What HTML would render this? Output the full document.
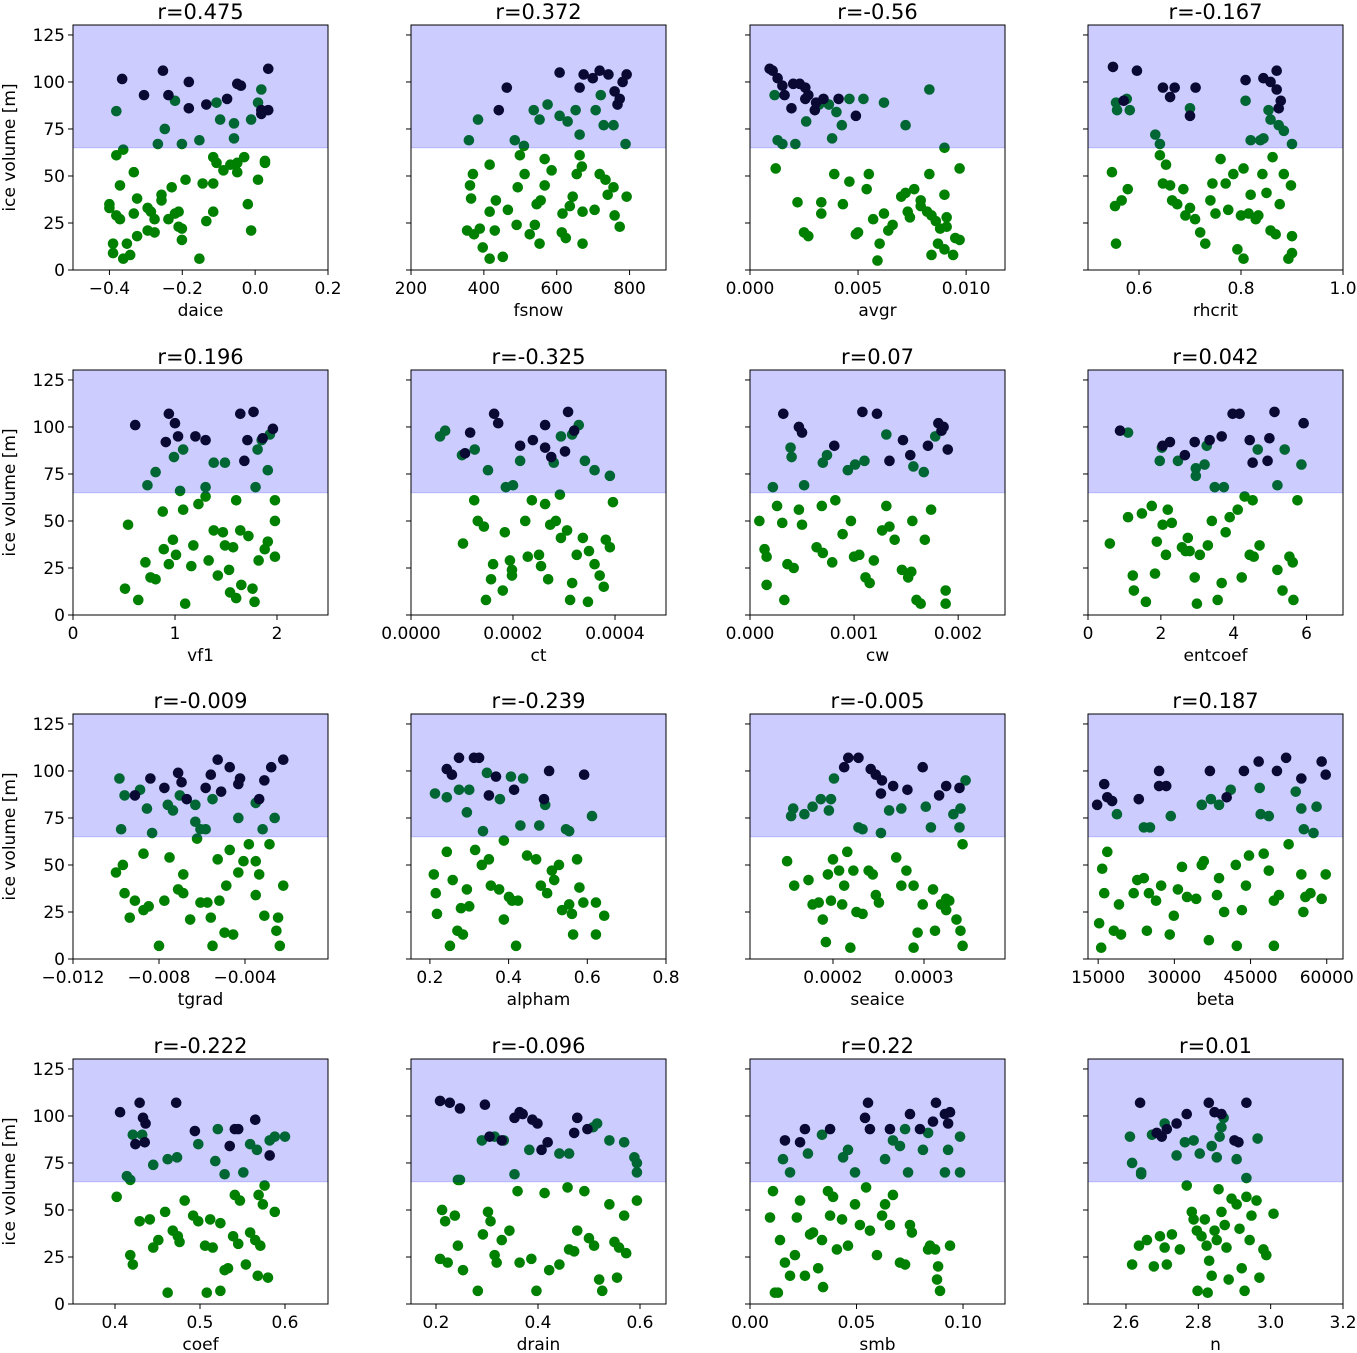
<!DOCTYPE html>
<html><head><meta charset="utf-8">
<style>
html,body{margin:0;padding:0;background:#fff;}
svg{display:block;font-family:"DejaVu Sans","Liberation Sans",sans-serif;}
</style></head>
<body>
<svg id="chart" width="1357" height="1353" viewBox="0 0 1357 1353"></svg>
<script>
// ---- data (x in axis units; tgrad in 1e-3, avgr 1e-3, cw 1e-3, ct 1e-4, seaice 1e-4) ----
const daiceDarkX=[-0.365,-0.305,-0.253,-0.238,-0.182,-0.182,-0.134,-0.077,-0.049,-0.039,0.017,0.036,0.036,0.017];
const daiceDarkY=[101.6,93,106,93,100,86,88,91,99,98,85,107,85,83];
const daiceGreenX=[-0.381,-0.220,-0.248,-0.267,-0.201,-0.153,-0.106,-0.096,-0.058,-0.058,0.008,0.017,-0.011,
-0.381,-0.362,-0.371,-0.400,-0.400,-0.381,-0.371,-0.352,-0.390,-0.390,-0.362,-0.343,-0.333,-0.324,-0.333,-0.324,-0.295,-0.295,-0.286,-0.276,-0.276,-0.257,-0.257,-0.238,-0.229,-0.220,-0.210,-0.210,-0.191,-0.201,-0.201,-0.153,-0.144,-0.115,-0.115,-0.134,-0.115,-0.106,-0.087,-0.068,-0.049,-0.049,-0.030,-0.020,-0.011,0.008,0.027,0.027];
const daiceGreenY=[84.5,90,75,67,67,69,89,80,78,70,89,96,80,
61,64,45,35,33,29,27,14,14,9,6,8,52,38,30,18,33,21,31,27,20,40,37,27,44,30,31,23,48,22,16,6,46,46,31,26,60,57,53,56,57,52,60,35,21,48,57,58];

const fsnowDarkX=[463,441,608,663,699,759,781,742,792,718,773,674,767];
const fsnowDarkY=[97,85,105,97,102,95,100,104,104,106,91,104,88];
const fsnowGreenX=[359,384,537,553,575,608,630,652,663,707,721,729,756,789,485,510,
362,370,365,354,373,397,389,416,416,433,430,416,452,466,490,493,499,512,526,540,545,556,553,567,567,586,614,616,636,625,644,655,663,669,671,704,718,734,740,756,759,773,792,671];
const fsnowGreenY=[69,80,85,80,88,82,79,85,72,85,93,77,77,67,69,66,
45,51,38,21,19,12,22,56,31,37,21,6,7,32,24,44,61,51,19,24,35,37,14,45,59,53,20,30,34,17,39,51,61,55,14,32,51,48,40,44,29,23,39,31];

const avgrDarkX=[0.91,1.05,1.28,1.5,2.0,2.3,2.56,2.56,1.92,3.0,3.4,3.06,4.1,4.9,1.6,2.7];
const avgrDarkY=[107,106,102,98,99,99,97,91,86,85,91,89,91,82,93,93];
const avgrGreenX=[1.14,1.28,1.5,2.1,2.6,3.2,3.65,3.8,4.25,4.6,5.25,6.2,7.2,8.3,9.0,4.0,
1.19,2.2,2.5,2.7,3.3,3.3,3.9,4.3,4.6,4.9,5.0,5.5,5.4,5.7,6.0,5.9,6.2,6.4,6.6,7.0,7.2,7.3,7.4,7.6,7.9,7.9,8.2,8.3,8.4,8.6,8.8,9.0,9.0,9.1,9.4,9.7,9.5,9.7,8.7,9.1,8.4];
const avgrGreenY=[93,69,67,67,79,88,88,70,77,91,91,89,77,96,65,84,
54,36,20,18,36,30,51,35,47,19,20,51,43,27,14,5,30,21,24,39,41,31,28,43,34,37,31,51,29,26,22,40,11,23,8,54,17,16,14,28,8];

const rhcritDarkX=[0.549,0.57,0.596,0.647,0.661,0.67,0.70,0.711,0.809,0.844,0.858,0.87,0.874,0.878,0.87];
const rhcritDarkY=[108,90,106,97,92,97,82,97,101,102,100,96,86,90,106];
const rhcritGreenX=[0.555,0.557,0.576,0.582,0.632,0.641,0.70,0.809,0.819,0.854,0.858,0.874,0.884,0.90,0.844,0.838,
0.547,0.553,0.555,0.566,0.578,0.641,0.647,0.653,0.661,0.665,0.675,0.687,0.691,0.70,0.71,0.72,0.73,0.74,0.744,0.75,0.76,0.77,0.775,0.785,0.793,0.80,0.805,0.815,0.819,0.829,0.834,0.842,0.85,0.858,0.862,0.868,0.876,0.884,0.898,0.90,0.90,0.893,0.805];
const rhcritGreenY=[89,85,91,85,72,67,86,90,69,85,80,77,74,67,70,69,
52,34,14,37,43,61,46,56,45,37,35,43,29,33,27,20,14,37,46,30,59,46,32,51,11,29,54,30,40,27,29,51,41,21,60,19,35,51,45,18,9,6,6];

const vf1DarkX=[0.61,0.94,1.0,0.91,1.03,1.2,1.3,1.64,1.77,1.71,1.96,1.68,1.86];
const vf1DarkY=[101,107,102,92,95,95,93,107,108,93,99,82,94];
const vf1GreenX=[0.81,0.73,0.99,1.08,1.38,1.49,1.81,1.85,1.91,1.93,1.79,1.3,1.05,
0.54,0.51,0.64,0.71,0.76,0.81,0.88,0.89,0.94,0.98,1.01,1.08,1.1,1.16,1.18,1.23,1.3,1.33,1.38,1.42,1.47,1.49,1.53,1.57,1.6,1.64,1.65,1.6,1.72,1.76,1.78,1.82,1.88,1.91,1.98,1.98,1.98,1.54];
const vf1GreenY=[76,69,84,88,81,81,88,93,77,96,68,68,66,
48,14,8,28,20,19,55,35,27,40,32,56,6,26,37,59,63,29,45,21,44,37,24,36,61,45,16,9,42,14,7,29,35,39,61,50,31,12];

const ctDarkX=[1.63,1.71,2.39,2.63,3.02,3.08,2.75,3.2,2.14,2.63,1.16,1.06];
const ctDarkY=[107,102,93,89,87,108,84,98,90,101,97,86];
const ctGreenX=[0.57,0.67,1.0,1.25,1.51,1.86,2.0,2.14,2.8,2.94,3.16,3.29,3.41,3.6,3.9,
1.02,1.24,1.31,1.43,1.47,1.57,1.61,1.8,1.84,1.94,1.98,1.98,2.24,2.29,2.37,2.51,2.55,2.63,2.69,2.73,2.84,2.92,2.94,3.06,3.12,3.16,3.25,3.37,3.47,3.49,3.6,3.7,3.78,3.82,3.9,3.96];
const ctGreenY=[95,98,85,88,77,68,69,82,81,95,96,101,82,77,74,
38,61,50,47,8,19,27,13,44,29,24,21,50,31,61,32,26,59,19,48,50,64,41,45,8,17,32,41,7,34,27,21,15,40,36,60];

const cwDarkX=[0.32,0.47,0.5,0.81,1.08,1.22,1.34,1.47,1.54,1.71,1.81,1.84,1.9,1.86];
const cwDarkY=[107,100,97,90,108,107,82,93,85,90,102,98,88,100];
const cwGreenX=[0.22,0.39,0.4,0.7,0.74,0.94,1.01,1.1,1.31,1.57,1.67,1.78,0.52,
0.09,0.14,0.16,0.16,0.26,0.31,0.33,0.36,0.42,0.47,0.5,0.64,0.69,0.7,0.79,0.82,0.89,0.97,1.0,1.05,1.11,1.15,1.19,1.27,1.31,1.34,1.39,1.46,1.52,1.56,1.6,1.64,1.68,1.74,1.88,1.88,1.55];
const cwGreenY=[68,89,84,81,85,77,80,82,96,79,76,95,69,
50,35,31,16,58,49,8,27,25,56,48,36,58,33,28,61,43,50,31,32,20,17,29,45,58,47,40,24,20,50,8,6,40,56,13,6,23];

const entcoefDarkX=[0.88,2.05,2.25,2.66,2.93,3.34,3.67,3.97,4.16,4.44,5.12,4.93,4.98,5.92,4.52];
const entcoefDarkY=[98,90,92,85,92,93,95,107,107,93,108,82,94,102,81];
const entcoefGreenX=[1.1,1.97,2.03,2.47,2.96,3.2,3.48,3.73,4.66,5.2,5.4,5.86,3.26,2.96,
0.6,1.1,1.23,1.26,1.48,1.59,1.75,1.84,1.89,2.05,2.14,2.19,2.3,2.58,2.68,2.74,2.79,2.93,2.99,3.07,3.29,3.4,3.56,3.67,3.78,3.89,4.11,4.22,4.44,4.55,4.71,5.2,5.34,5.53,5.62,5.64,5.75,4.3,4.52];
const entcoefGreenY=[97,82,89,82,74,80,68,68,88,69,88,80,90,78,
38,52,21,13,54,7,58,22,39,48,32,56,49,36,34,41,34,20,6,32,37,50,8,17,44,52,56,20,32,31,37,24,13,31,28,8,61,63,61];

const tgradDarkX=[-9.12,-8.40,-7.75,-7.11,-6.95,-6.71,-5.83,-5.59,-5.11,-4.71,-4.31,-4.23,-3.34,-3.10,-2.78,-2.22,-5.27];
const tgradDarkY=[87,96,91,99,94,85,91,98,89,102,93,96,85,95,102,106,106];
const tgradGreenX=[-9.84,-9.60,-9.76,-8.88,-8.56,-8.32,-7.59,-7.35,-7.03,-6.31,-6.07,-5.83,-5.51,-4.31,-3.50,-3.18,-2.62,-6.31,
-10.0,-9.68,-9.60,-9.36,-9.12,-8.72,-8.72,-8.48,-8.00,-7.75,-7.51,-7.11,-6.87,-6.87,-6.55,-6.23,-6.07,-5.75,-5.59,-5.51,-5.27,-5.19,-4.95,-4.87,-4.71,-4.55,-4.31,-4.07,-3.82,-3.50,-3.50,-3.34,-3.10,-2.86,-2.46,-2.38,-2.22,-2.54];
const tgradGreenY=[96,87,69,90,80,67,82,79,87,73,69,69,85,75,83,69,75,82,
46,50,35,22,31,26,56,28,7,31,54,37,45,35,21,64,30,30,22,7,53,31,14,39,58,13,46,52,61,52,34,45,23,61,22,7,39,15];

const alphamDarkX=[0.243,0.274,0.312,0.325,0.256,0.368,0.35,0.414,0.503,0.592,0.49];
const alphamDarkY=[101,107,107,107,98,97,87,90,100,98,85];
const alphamGreenX=[0.213,0.243,0.274,0.3,0.294,0.335,0.345,0.378,0.388,0.406,0.43,0.437,0.478,0.493,0.546,0.612,0.554,
0.21,0.215,0.218,0.243,0.251,0.258,0.27,0.279,0.284,0.294,0.3,0.315,0.332,0.35,0.355,0.376,0.388,0.401,0.409,0.419,0.424,0.447,0.47,0.482,0.498,0.51,0.516,0.528,0.536,0.554,0.561,0.564,0.574,0.58,0.622,0.622,0.643,0.59];
const alphamGreenY=[88,86,90,90,78,68,99,85,63,97,71,96,71,82,69,76,68,
45,35,24,57,7,42,15,27,13,37,28,58,50,53,39,37,21,33,31,7,31,55,53,39,35,47,42,50,26,29,24,13,53,38,30,13,23,30];

const seaiceDarkX=[2.123,2.168,2.280,2.415,2.471,2.538,2.527,2.661,2.986,2.818,3.166,3.244,3.390];
const seaiceDarkY=[102,107,107,101,98,95,88,92,102,90,87,92,91];
const seaiceGreenX=[1.563,1.540,1.686,1.776,1.866,1.978,2.011,1.955,2.280,2.325,2.527,2.617,2.751,3.020,3.076,3.401,3.457,3.323,3.390,
1.496,1.574,1.731,1.776,1.843,1.888,1.922,1.944,1.978,2.000,2.067,2.101,2.123,2.157,2.191,2.224,2.258,2.325,2.392,2.437,2.471,2.505,2.695,2.751,2.807,2.886,2.886,2.930,2.986,3.099,3.188,3.244,3.244,3.278,3.357,3.401,3.424,3.424,3.121];
const seaiceGreenY=[80,76,77,81,85,85,96,79,70,69,67,79,80,81,70,80,95,77,70,
52,39,42,29,30,21,9,45,31,53,47,29,39,57,6,47,25,24,47,45,34,30,54,39,47,39,6,14,29,37,29,26,32,31,21,15,7,61,15];

const betaDarkX=[14800,16200,16800,17750,23000,27000,27000,28400,37000,40300,43700,46600,50200,52000,55000,59000,59800];
const betaDarkY=[82,93,86,84,85,100,92,92,100,86,100,105,100,107,96,105,98];
const betaGreenX=[18700,24000,25200,29300,35400,37200,38800,41100,46800,47000,48600,53900,55500,57400,55000,58000,
15800,16200,15200,15600,16800,18100,19100,19500,22000,22700,24000,24600,25000,26400,27400,29100,29900,30700,31500,32500,34300,35400,35800,36800,38400,38800,39800,42100,42300,43300,44100,44700,47600,48600,49600,50600,49600,52500,55000,55800,55400,56800,59000,59800];
const betaGreenY=[77,70,70,76,82,85,82,90,91,77,76,89,69,67,80,81,
48,35,19,6,57,15,29,13,35,42,43,15,35,31,39,13,23,37,49,33,32,50,52,10,34,43,25,50,7,26,39,55,56,47,31,34,7,61,45,33,25,35,32,45];

const coefDarkX=[0.406,0.429,0.433,0.436,0.435,0.472,0.494,0.541,0.545,0.565,0.535,0.582,0.424];
const coefDarkY=[102,107,99,96,86,107,92,93,93,98,84,79,85];
const coefGreenX=[0.421,0.414,0.418,0.432,0.445,0.462,0.473,0.498,0.521,0.529,0.559,0.567,0.582,0.588,0.6,0.551,0.518,
0.402,0.418,0.421,0.429,0.441,0.445,0.451,0.459,0.462,0.468,0.474,0.476,0.482,0.492,0.498,0.506,0.508,0.512,0.515,0.524,0.529,0.533,0.539,0.541,0.545,0.547,0.554,0.559,0.565,0.568,0.571,0.574,0.576,0.58,0.588,0.569,0.524];
const coefGreenY=[90,68,66,90,74,77,78,85,93,69,85,82,87,89,89,70,76,
57,26,21,44,45,30,34,49,6,39,36,33,55,47,44,31,6,45,30,7,18,19,36,58,32,55,21,38,34,15,31,53,63,14,49,58,43];

const drainDarkX=[0.208,0.227,0.247,0.296,0.305,0.329,0.354,0.364,0.37,0.389,0.399,0.407,0.419,0.471,0.477,0.497];
const drainDarkY=[108,107,104,106,89,87,99,102,101,98,96,82,86,91,99,93];
const drainGreenX=[0.247,0.243,0.29,0.315,0.333,0.354,0.383,0.442,0.461,0.508,0.516,0.54,0.569,0.589,0.594,0.594,
0.212,0.208,0.218,0.223,0.237,0.243,0.253,0.282,0.292,0.302,0.307,0.315,0.319,0.329,0.344,0.36,0.364,0.387,0.397,0.413,0.422,0.442,0.458,0.461,0.471,0.477,0.491,0.5,0.51,0.52,0.526,0.54,0.55,0.555,0.559,0.569,0.573,0.594];
const drainGreenY=[66,66,87,89,87,69,82,80,80,94,96,87,86,78,75,70,
50,24,44,22,47,31,18,7,37,49,44,26,22,34,39,60,22,24,7,59,18,21,62,29,28,39,60,35,31,13,7,53,33,14,30,47,27,55];

const smbDarkX=[0.0164,0.0235,0.0258,0.0376,0.054,0.0554,0.0563,0.0657,0.0751,0.0798,0.0859,0.0873,0.0915,0.0939,0.093];
const smbDarkY=[87,86,93,93,99,107,93,93,101,93,97,107,101,102,96];
const smbGreenX=[0.0155,0.0188,0.0272,0.0338,0.0437,0.046,0.0493,0.0634,0.0671,0.0704,0.0728,0.0742,0.0812,0.0836,0.0915,0.093,0.0986,0.0986,
0.0094,0.0108,0.0117,0.0131,0.0141,0.0164,0.0188,0.0211,0.022,0.0235,0.0258,0.0282,0.0296,0.032,0.0338,0.0343,0.0366,0.0376,0.039,0.0408,0.0432,0.046,0.0493,0.0516,0.0545,0.0563,0.0596,0.062,0.0634,0.0657,0.0671,0.0704,0.0728,0.0751,0.076,0.0836,0.0845,0.0869,0.0878,0.0892,0.0939,0.0883];
const smbGreenY=[77,70,80,90,78,82,70,77,87,84,93,70,82,91,70,82,89,70,
46,60,6,6,34,22,15,26,46,55,15,37,38,19,34,9,60,47,57,29,45,31,53,42,62,39,26,47,53,42,58,22,21,42,38,29,31,29,13,7,31,20];

const nDarkX=[2.639,2.685,2.699,2.713,2.74,2.768,2.829,2.845,2.864,2.9,2.911,2.933];
const nDarkY=[107,91,89,93,96,101,107,102,101,87,86,107];
const nGreenX=[2.611,2.617,2.642,2.642,2.672,2.707,2.74,2.763,2.787,2.804,2.837,2.851,2.864,2.87,2.906,2.933,2.964,2.859,
2.617,2.636,2.658,2.677,2.694,2.707,2.713,2.727,2.749,2.768,2.782,2.787,2.796,2.809,2.818,2.823,2.83,2.837,2.845,2.851,2.856,2.864,2.873,2.878,2.884,2.892,2.906,2.914,2.92,2.928,2.933,2.942,2.947,2.961,2.969,2.98,2.988,3.008,2.826,2.798];
const nGreenY=[89,75,70,69,90,96,79,86,87,80,84,78,94,99,77,67,88,89,
21,31,34,20,36,30,21,37,29,63,49,45,39,36,45,31,23,15,39,34,61,49,42,30,13,56,53,40,19,7,57,34,47,55,14,29,26,48,6,7];

const titles=["r=0.475","r=0.372","r=-0.56","r=-0.167","r=0.196","r=-0.325","r=0.07","r=0.042","r=-0.009","r=-0.239","r=-0.005","r=0.187","r=-0.222","r=-0.096","r=0.22","r=0.01"];
const xLabels=["daice","fsnow","avgr","rhcrit","vf1","ct","cw","entcoef","tgrad","alpham","seaice","beta","coef","drain","smb","n"];
const yTicks=[0,25,50,75,100,125];
const threshold=65;

const panels=[
 {xmin:-0.5,xmax:0.2,ticks:[-0.4,-0.2,0.0,0.2],tl:["\u22120.4","\u22120.2","0.0","0.2"],dx:daiceDarkX,dy:daiceDarkY,gx:daiceGreenX,gy:daiceGreenY},
 {xmin:200,xmax:900,ticks:[200,400,600,800],tl:["200","400","600","800"],dx:fsnowDarkX,dy:fsnowDarkY,gx:fsnowGreenX,gy:fsnowGreenY},
 {xmin:0,xmax:11.8,ticks:[0,5,10],tl:["0.000","0.005","0.010"],dx:avgrDarkX,dy:avgrDarkY,gx:avgrGreenX,gy:avgrGreenY},
 {xmin:0.5,xmax:1.0,ticks:[0.6,0.8,1.0],tl:["0.6","0.8","1.0"],dx:rhcritDarkX,dy:rhcritDarkY,gx:rhcritGreenX,gy:rhcritGreenY},
 {xmin:0,xmax:2.5,ticks:[0,1,2],tl:["0","1","2"],dx:vf1DarkX,dy:vf1DarkY,gx:vf1GreenX,gy:vf1GreenY},
 {xmin:0,xmax:5.0,ticks:[0,2,4],tl:["0.0000","0.0002","0.0004"],dx:ctDarkX,dy:ctDarkY,gx:ctGreenX,gy:ctGreenY},
 {xmin:0,xmax:2.45,ticks:[0,1,2],tl:["0.000","0.001","0.002"],dx:cwDarkX,dy:cwDarkY,gx:cwGreenX,gy:cwGreenY},
 {xmin:0,xmax:7,ticks:[0,2,4,6],tl:["0","2","4","6"],dx:entcoefDarkX,dy:entcoefDarkY,gx:entcoefGreenX,gy:entcoefGreenY},
 {xmin:-12,xmax:-0.14,ticks:[-12,-8,-4],tl:["\u22120.012","\u22120.008","\u22120.004"],dx:tgradDarkX,dy:tgradDarkY,gx:tgradGreenX,gy:tgradGreenY},
 {xmin:0.152,xmax:0.8,ticks:[0.2,0.4,0.6,0.8],tl:["0.2","0.4","0.6","0.8"],dx:alphamDarkX,dy:alphamDarkY,gx:alphamGreenX,gy:alphamGreenY},
 {xmin:1.088,xmax:3.89,ticks:[2,3],tl:["0.0002","0.0003"],dx:seaiceDarkX,dy:seaiceDarkY,gx:seaiceGreenX,gy:seaiceGreenY},
 {xmin:13000,xmax:63200,ticks:[15000,30000,45000,60000],tl:["15000","30000","45000","60000"],dx:betaDarkX,dy:betaDarkY,gx:betaGreenX,gy:betaGreenY},
 {xmin:0.3506,xmax:0.6506,ticks:[0.4,0.5,0.6],tl:["0.4","0.5","0.6"],dx:coefDarkX,dy:coefDarkY,gx:coefGreenX,gy:coefGreenY},
 {xmin:0.1510,xmax:0.6510,ticks:[0.2,0.4,0.6],tl:["0.2","0.4","0.6"],dx:drainDarkX,dy:drainDarkY,gx:drainGreenX,gy:drainGreenY},
 {xmin:0,xmax:0.1197,ticks:[0,0.05,0.10],tl:["0.00","0.05","0.10"],dx:smbDarkX,dy:smbDarkY,gx:smbGreenX,gy:smbGreenY},
 {xmin:2.495,xmax:3.2,ticks:[2.6,2.8,3.0,3.2],tl:["2.6","2.8","3.0","3.2"],dx:nDarkX,dy:nDarkY,gx:nGreenX,gy:nGreenY}
];

const NS="http://www.w3.org/2000/svg";
const svg=document.getElementById('chart');
const colLeft=[73,411,750,1088], rowTop=[25,370,714,1059], W=255, H=245, YMAX=130.3;
function mk(tag,attrs,parent){const e=document.createElementNS(NS,tag);for(const k in attrs)e.setAttribute(k,attrs[k]);(parent||svg).appendChild(e);return e;}

panels.forEach((p,i)=>{
  const L=colLeft[i%4], T=rowTop[Math.floor(i/4)], B=T+H;
  const xs=v=>L+(v-p.xmin)/(p.xmax-p.xmin)*W;
  const ys=v=>B-v/YMAX*H;
  const g=mk('g',{});
  
  
  const cp=mk('clipPath',{id:'cp'+i},g);
  mk('rect',{x:L,y:T,width:W,height:H},cp);
  const pts=mk('g',{'clip-path':'url(#cp'+i+')'},g);
  
  
  p.gx.forEach((x,j)=>{const c=mk('circle',{cx:xs(x),cy:ys(p.gy[j]),r:5.3,fill:'#008000'},pts);
    
    });
  p.dx.forEach((x,j)=>{const c=mk('circle',{cx:xs(x),cy:ys(p.dy[j]),r:5.3,fill:'#0c0c00'},pts);
    
    });
  const band=mk('rect',{x:L,y:T,width:W,height:ys(threshold)-T,fill:'rgba(0,0,255,0.2)',stroke:'rgba(0,0,255,0.2)','stroke-width':1},g);
  
  
  const frame=mk('rect',{x:L,y:T,width:W,height:H,fill:'none',stroke:'#000','stroke-width':1},g);
  
  
  yTicks.forEach(v=>{const y=ys(v);mk('line',{x1:L-5,x2:L,y1:y,y2:y,stroke:'#000','stroke-width':1},g);
    if(i%4===0){const t=mk('text',{x:L-8,y:y+6,'text-anchor':'end','font-size':17},g);t.textContent=v;
      
      }});
  p.ticks.forEach((v,k)=>{const x=xs(v);mk('line',{x1:x,x2:x,y1:B,y2:B+5,stroke:'#000','stroke-width':1},g);
    const t=mk('text',{x:x,y:B+24,'text-anchor':'middle','font-size':17},g);t.textContent=p.tl[k];
    
    });
  const xl=mk('text',{x:L+W/2,y:B+46,'text-anchor':'middle','font-size':17},g);xl.textContent=xLabels[i];
  
  
  const tt=mk('text',{x:L+W/2,y:T-6,'text-anchor':'middle','font-size':21},g);tt.textContent=titles[i];
  
  
  if(i%4===0){const yl=mk('text',{x:0,y:0,'text-anchor':'middle','font-size':17,transform:'translate(15,'+(T+H/2)+') rotate(-90)'},g);
    yl.textContent='ice volume [m]';
    
    }
});
</script>
</body></html>
